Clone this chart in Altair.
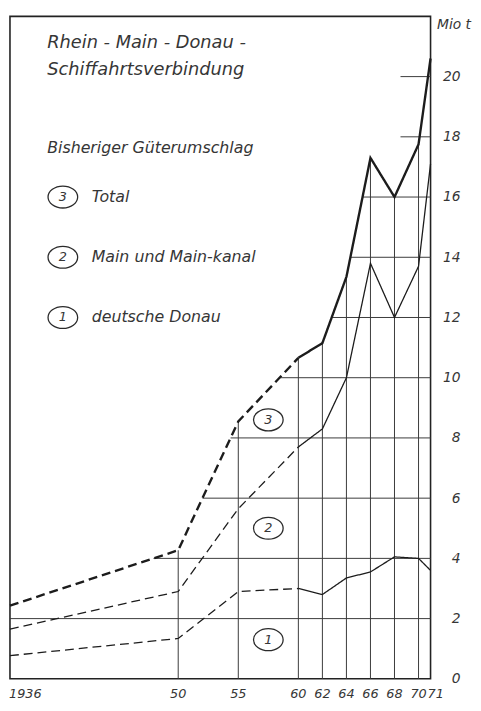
import altair as alt
import pandas as pd

# ---------------- data ----------------
years = [1936, 1950, 1955, 1960, 1962, 1964, 1966, 1968, 1970, 1971]
donau = [0.77, 1.34, 2.9, 3.0, 2.8, 3.35, 3.55, 4.05, 4.0, 3.6]          # curve 1
main_cum = [1.65, 2.9, 5.65, 7.7, 8.3, 10.0, 13.8, 12.0, 13.7, 17.1]      # curve 2
total = [2.43, 4.27, 8.55, 10.66, 11.15, 13.35, 17.3, 16.0, 17.75, 20.6]  # curve 3
dash_until = 1960

y_ticks = list(range(0, 21, 2))
x_tick_years = [1936, 1950, 1955, 1960, 1962, 1964, 1966, 1968, 1970, 1971]
x_tick_labels = ["1936", "50", "55", "60", "62", "64", "66", "68", "70", "71"]
x_tick_anchor = ["start"] + ["mid"] * 8 + ["end"]

v_grid_years = [1950, 1955, 1960, 1962, 1964, 1966, 1968, 1970]
h_grid_levels = list(range(2, 21, 2))
label_tick_from = 1968.5

legend_nums = ["3", "2", "1"]
legend_texts = ["Total", "Main und Main-kanal", "deutsche Donau"]
legend_values = [16, 14, 12]
legend_year_circle = 1940.4
legend_year_text = 1942.8

area_nums = ["3", "2", "1"]
area_values = [8.6, 5.0, 1.3]
area_year = 1957.5

title_lines = ["Rhein - Main - Donau -", "Schiffahrtsverbindung"]
title_values = [20.94, 20.04]
subtitle = ["Bisheriger Güterumschlag"]
subtitle_values = [17.45]
text_year = 1939.1

# ---------------- derived tables ----------------
def first_cross(level):
    if total[0] >= level:
        return years[0]
    for i in range(len(years) - 1):
        a, b = total[i], total[i + 1]
        if a < level <= b:
            return years[i] + (years[i + 1] - years[i]) * (level - a) / (b - a)
    return years[-1]

hgrid = pd.DataFrame({
    "x": [min(first_cross(l), label_tick_from) for l in h_grid_levels],
    "xe": [years[-1]] * len(h_grid_levels),
    "v": h_grid_levels,
})
tot_at = dict(zip(years, total))
vgrid = pd.DataFrame({
    "x": v_grid_years,
    "v": [tot_at[y] for y in v_grid_years],
    "v0": [0] * len(v_grid_years),
})

rows = []
for name, vals in [("1", donau), ("2", main_cum), ("3", total)]:
    for yr, val in zip(years, vals):
        if yr <= dash_until:
            rows.append({"series": name, "style": "dashed", "grp": name + "d", "x": yr, "v": val})
        if yr >= dash_until:
            rows.append({"series": name, "style": "solid", "grp": name + "s", "x": yr, "v": val})
lines = pd.DataFrame(rows)

legend_df = pd.DataFrame({"num": legend_nums, "txt": legend_texts, "v": legend_values,
                          "x": [legend_year_circle] * 3, "xt": [legend_year_text] * 3})
area_df = pd.DataFrame({"num": area_nums, "v": area_values, "x": [area_year] * 3})
title_df = pd.DataFrame({"txt": title_lines, "v": title_values, "x": [text_year] * 2})
sub_df = pd.DataFrame({"txt": subtitle, "v": subtitle_values, "x": [text_year]})
xlab_df = pd.DataFrame({"x": x_tick_years, "lab": x_tick_labels, "anchor": x_tick_anchor,
                        "v": [0] * len(x_tick_years)})

# ---------------- encodings ----------------
FONT = "DejaVu Sans"
TXT = "#363636"
INK = "#1c1c1c"
GRID = "#3a3a3a"

xs = alt.Scale(domain=[1936, 1971], nice=False, zero=False)
ys = alt.Scale(domain=[0, 22], nice=False, zero=True)
yaxis = alt.Axis(orient="right", values=y_ticks, grid=False, ticks=False, domain=False,
                 labelAlign="right", labelBaseline="middle", labelPadding=30,
                 labelFont=FONT, labelFontStyle="italic", labelFontSize=14, labelColor=TXT,
                 labelFlush=False, labelOverlap=False, labelBound=False,
                 title="Mio t", titleAngle=0, titleAlign="left", titleBaseline="middle",
                 titleX=6, titleY=8, titleFont=FONT, titleFontStyle="italic",
                 titleFontWeight="normal", titleFontSize=14, titleColor=TXT)

def X(field="x"):
    return alt.X(field + ":Q", scale=xs, axis=None)

def Y(field="v"):
    return alt.Y(field + ":Q", scale=ys, axis=yaxis)

hrules = alt.Chart(hgrid).mark_rule(color=GRID, strokeWidth=1).encode(
    x=X(), x2="xe:Q", y=Y())
vrules = alt.Chart(vgrid).mark_rule(color=GRID, strokeWidth=1).encode(
    x=X(), y=Y(), y2="v0:Q")

thin = alt.Chart(lines).transform_filter("datum.series != '3'").mark_line(
    color=INK, strokeWidth=1.3).encode(
    x=X(), y=Y(), detail="grp:N",
    strokeDash=alt.StrokeDash("style:N", scale=alt.Scale(domain=["dashed", "solid"],
                                                         range=[[9, 5], [1, 0]]), legend=None),
    order="x:Q")
thick = alt.Chart(lines).transform_filter("datum.series == '3'").mark_line(
    color=INK, strokeWidth=2.4).encode(
    x=X(), y=Y(), detail="grp:N",
    strokeDash=alt.StrokeDash("style:N", scale=alt.Scale(domain=["dashed", "solid"],
                                                         range=[[11, 6], [1, 0]]), legend=None),
    order="x:Q")

ellipse = "M-1,0A1,0.74 0 1,1 1,0A1,0.74 0 1,1 -1,0Z"

def circles(df):
    return alt.Chart(df).mark_point(shape=ellipse, size=900, filled=False,
                                    stroke="#2a2a2a", strokeWidth=1.3, opacity=1).encode(x=X(), y=Y())

def nums(df):
    return alt.Chart(df).mark_text(font=FONT, fontStyle="italic", fontSize=13, color=TXT,
                                   align="center", baseline="middle").encode(
        x=X(), y=Y(), text="num:N")

legend_txt = alt.Chart(legend_df).mark_text(font=FONT, fontStyle="italic", fontSize=16, color=TXT,
                                            align="left", baseline="middle").encode(
    x=X("xt"), y=Y(), text="txt:N")
title_txt = alt.Chart(title_df).mark_text(font=FONT, fontStyle="italic", fontSize=18, color=TXT,
                                          align="left", baseline="alphabetic").encode(
    x=X(), y=Y(), text="txt:N")
sub_txt = alt.Chart(sub_df).mark_text(font=FONT, fontStyle="italic", fontSize=16, color=TXT,
                                      align="left", baseline="alphabetic").encode(
    x=X(), y=Y(), text="txt:N")

def xlabels(anchor, align, dx):
    return alt.Chart(xlab_df).transform_filter(f"datum.anchor == '{anchor}'").mark_text(
        font=FONT, fontStyle="italic", fontSize=13, color=TXT, align=align,
        baseline="alphabetic", dy=19, dx=dx).encode(x=X(), y=Y(), text="lab:N")

chart = alt.layer(
    hrules, vrules, thin, thick,
    circles(legend_df), nums(legend_df), legend_txt,
    circles(area_df), nums(area_df),
    title_txt, sub_txt,
    xlabels("start", "left", -1), xlabels("mid", "center", 0), xlabels("end", "left", -3),
).properties(
    width=426, height=671,
    autosize=alt.AutoSizeParams(type="none"),
    padding={"left": 2, "top": 4, "right": 43, "bottom": 20},
    background="white",
).configure_view(stroke="#222222", strokeWidth=1.6)

chart.save("out.html", embed_options={"renderer": "svg", "actions": False})
